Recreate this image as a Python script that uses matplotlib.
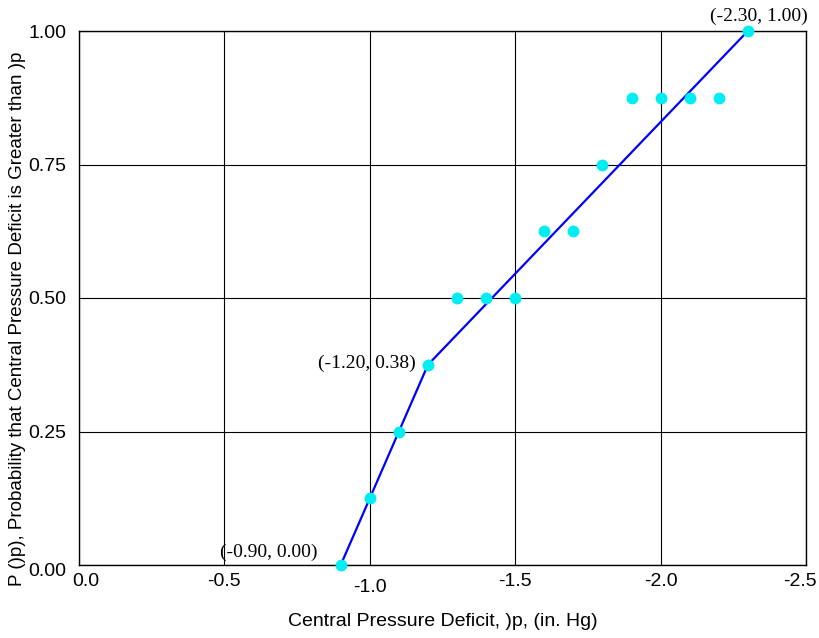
import matplotlib
matplotlib.use("Agg")
import matplotlib.pyplot as plt
from matplotlib.transforms import ScaledTranslation

# Data
deficit = [-0.9, -1.0, -1.1, -1.2, -1.3, -1.4, -1.5, -1.6, -1.7, -1.8, -1.9, -2.0, -2.1, -2.2, -2.3]
prob = [0.0, 0.125, 0.25, 0.375, 0.5, 0.5, 0.5, 0.625, 0.625, 0.75, 0.875, 0.875, 0.875, 0.875, 1.0]
fit_x = [-0.9, -1.2, -2.3]
fit_y = [0.0, 0.375, 1.0]
fit_labels = ["(-0.90, 0.00)", "(-1.20, 0.38)", "(-2.30, 1.00)"]
xticks = [0.0, -0.5, -1.0, -1.5, -2.0, -2.5]
xticklabels = ["0.0", "-0.5", "-1.0", "-1.5", "-2.0", "-2.5"]
yticks = [0.0, 0.25, 0.5, 0.75, 1.0]
yticklabels = ["0.00", "0.25", "0.50", "0.75", "1.00"]

plt.rcParams['font.family'] = ['Liberation Sans', 'DejaVu Sans']

fig = plt.figure(figsize=(8.2, 6.38), dpi=100)
ax = fig.add_axes([79/820, 1-565/638, (806-79)/820, (565-31)/638])

ax.set_xlim(0.0, -2.5)
ax.set_ylim(0.0, 1.0)

ax.grid(True, color='black', linewidth=0.8)
ax.set_axisbelow(True)

ax.plot(fit_x, fit_y, color='#0000ff', linewidth=1.6, zorder=3)
ax.plot(deficit, prob, 'o', color='#00eef2', markersize=7.5, zorder=4, clip_on=False)

ax.set_xticks(xticks)
ax.set_xticklabels(xticklabels, fontsize=14)
ax.set_yticks(yticks)
ax.set_yticklabels(yticklabels, fontsize=14)
ax.tick_params(length=0)
ax.tick_params(axis='x', pad=6)
ax.tick_params(axis='y', pad=9)

def shift(lab, dx, dy):
    lab.set_transform(lab.get_transform() + ScaledTranslation(dx/100, dy/100, fig.dpi_scale_trans))

# small label offsets as in reference
offs = {0: (7, 0), 2: (0, -6), 5: (-6, 0)}
for i, lab in enumerate(ax.get_xticklabels()):
    if i in offs:
        shift(lab, *offs[i])
shift(ax.get_yticklabels()[0], 0, -4)

for sp in ax.spines.values():
    sp.set_color('black')
    sp.set_linewidth(1.0)

ax.set_xlabel("Central Pressure Deficit, )p, (in. Hg)", fontsize=14, labelpad=12)
ax.set_ylabel("P ()p), Probability that Central Pressure Deficit is Greater than )p", fontsize=13.5)
ax.yaxis.set_label_coords(-0.073, 0.461)

serif = ['Liberation Serif', 'DejaVu Serif']
# annotations
ax.annotate(fit_labels[0], (fit_x[0], fit_y[0]), xytext=(-17, 3), textcoords='offset points',
            ha='right', va='bottom', fontsize=14, family=serif)
ax.annotate(fit_labels[1], (fit_x[1], fit_y[1]), xytext=(-9, 1), textcoords='offset points',
            ha='right', va='center', fontsize=14, family=serif)
ax.annotate(fit_labels[2], (fit_x[2], fit_y[2]), xytext=(8, 4), textcoords='offset points',
            ha='center', va='bottom', fontsize=14, family=serif, annotation_clip=False)

fig.savefig("out.png", dpi=100)
